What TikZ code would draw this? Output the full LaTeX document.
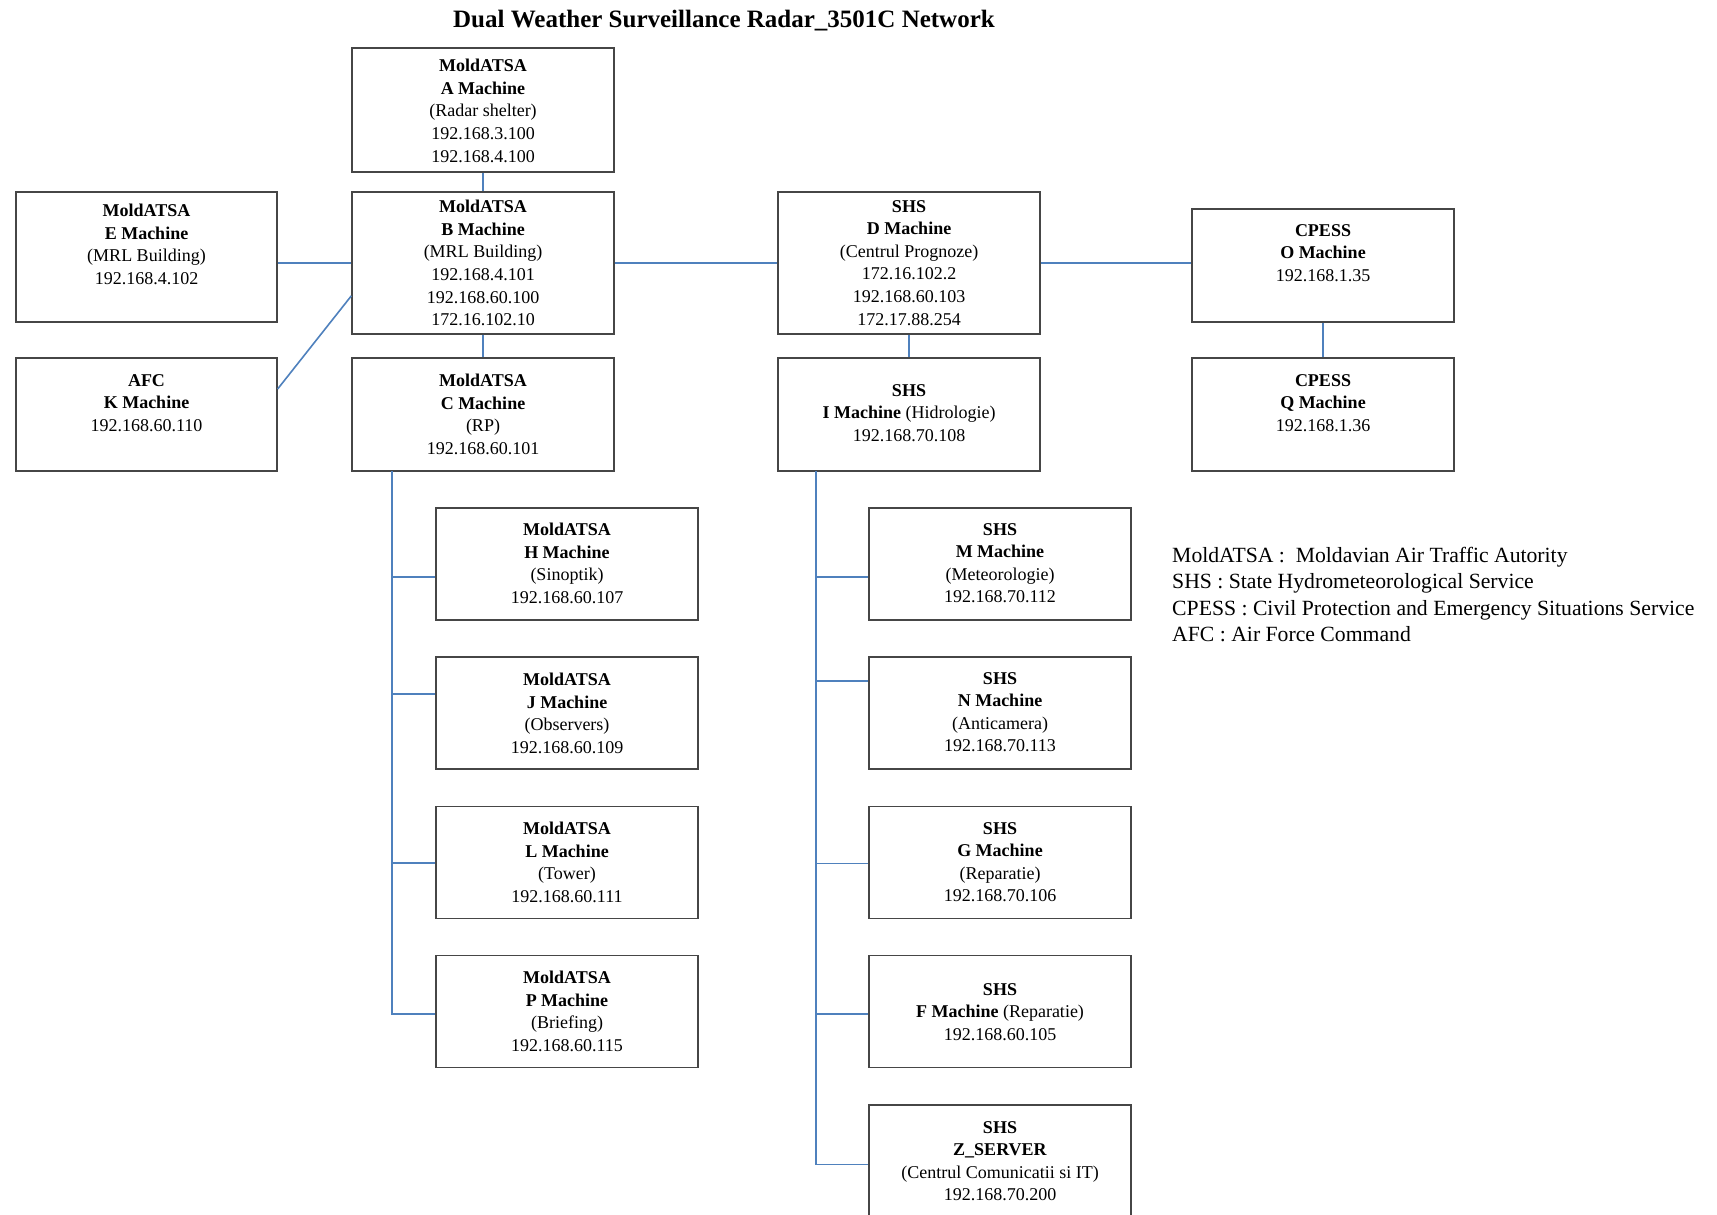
\documentclass[tikz,border=0pt]{standalone}
\usepackage{fontspec}
\setmainfont{Liberation Serif}
\usetikzlibrary{calc}
\definecolor{linkblue}{RGB}{79,129,189}
\definecolor{boxgray}{RGB}{70,70,70}
\begin{document}
\begin{tikzpicture}[x=1pt,y=-1pt,
  machinebox/.style={draw=boxgray,line width=1.3pt,rectangle,inner sep=0pt},
  boxtext/.style={anchor=north,inner sep=0pt,align=center,font=\fontsize{18}{22.6}\selectfont},
  conn/.style={draw=linkblue,line width=1.6pt}]
\useasboundingbox (0,0) rectangle (1717,1215);
\fill[white] (0,0) rectangle (1717,1215);
% title
\node[anchor=base,inner sep=0pt,font=\fontsize{25}{28}\selectfont\bfseries] (title) at (724,28) {Dual Weather Surveillance Radar\_3501C Network};
% boxes
\node[machinebox,minimum width=262,minimum height=124] (A) at (483,110) {};
\node[machinebox,minimum width=262,minimum height=142] (B) at (483,263) {};
\node[machinebox,minimum width=261,minimum height=130] (E) at (146.5,257) {};
\node[machinebox,minimum width=261,minimum height=113] (K) at (146.5,414.5) {};
\node[machinebox,minimum width=262,minimum height=113] (C) at (483,414.5) {};
\node[machinebox,minimum width=262,minimum height=142] (D) at (909,263) {};
\node[machinebox,minimum width=262,minimum height=113] (I) at (909,414.5) {};
\node[machinebox,minimum width=262,minimum height=113] (O) at (1323,265.5) {};
\node[machinebox,minimum width=262,minimum height=113] (Q) at (1323,414.5) {};
\node[machinebox,minimum width=262,minimum height=112] (H) at (567,564) {};
\node[machinebox,minimum width=262,minimum height=112] (J) at (567,713) {};
\node[machinebox,minimum width=262,minimum height=112] (L) at (567,862.5) {};
\node[machinebox,minimum width=262,minimum height=112] (P) at (567,1011.5) {};
\node[machinebox,minimum width=262,minimum height=112] (M) at (1000,564) {};
\node[machinebox,minimum width=262,minimum height=112] (N) at (1000,713) {};
\node[machinebox,minimum width=262,minimum height=112] (G) at (1000,862.5) {};
\node[machinebox,minimum width=262,minimum height=112] (F) at (1000,1011.5) {};
\node[machinebox,minimum width=262,minimum height=112] (Z) at (1000,1161) {};
% texts
\node[boxtext] (At) at (483,59) {\textbf{MoldATSA}\\\textbf{A Machine}\\(Radar shelter)\\192.168.3.100\\192.168.4.100};
\node[boxtext] (Bt) at (483,200) {\textbf{MoldATSA}\\\textbf{B Machine}\\(MRL Building)\\192.168.4.101\\192.168.60.100\\172.16.102.10};
\node[boxtext] (Et) at (146.5,204) {\textbf{MoldATSA}\\\textbf{E Machine}\\(MRL Building)\\192.168.4.102};
\node[boxtext] (Kt) at (146.5,374) {\textbf{AFC}\\\textbf{K Machine}\\192.168.60.110};
\node[boxtext] (Ct) at (483,374) {\textbf{MoldATSA}\\\textbf{C Machine}\\(RP)\\192.168.60.101};
\node[boxtext] (Dt) at (909,200) {\textbf{SHS}\\\textbf{D Machine}\\(Centrul Prognoze)\\172.16.102.2\\192.168.60.103\\172.17.88.254};
\node[boxtext] (It) at (909,384) {\textbf{SHS}\\\textbf{I Machine} (Hidrologie)\\192.168.70.108};
\node[boxtext] (Ot) at (1323,224) {\textbf{CPESS}\\\textbf{O Machine}\\192.168.1.35};
\node[boxtext] (Qt) at (1323,374) {\textbf{CPESS}\\\textbf{Q Machine}\\192.168.1.36};
\node[boxtext] (Ht) at (567,523) {\textbf{MoldATSA}\\\textbf{H Machine}\\(Sinoptik)\\192.168.60.107};
\node[boxtext] (Jt) at (567,673) {\textbf{MoldATSA}\\\textbf{J Machine}\\(Observers)\\192.168.60.109};
\node[boxtext] (Lt) at (567,822) {\textbf{MoldATSA}\\\textbf{L Machine}\\(Tower)\\192.168.60.111};
\node[boxtext] (Pt) at (567,971) {\textbf{MoldATSA}\\\textbf{P Machine}\\(Briefing)\\192.168.60.115};
\node[boxtext] (Mt) at (1000,523) {\textbf{SHS}\\\textbf{M Machine}\\(Meteorologie)\\192.168.70.112};
\node[boxtext] (Nt) at (1000,672) {\textbf{SHS}\\\textbf{N Machine}\\(Anticamera)\\192.168.70.113};
\node[boxtext] (Gt) at (1000,822) {\textbf{SHS}\\\textbf{G Machine}\\(Reparatie)\\192.168.70.106};
\node[boxtext] (Ft) at (1000,983) {\textbf{SHS}\\\textbf{F Machine} (Reparatie)\\192.168.60.105};
\node[boxtext] (Zt) at (1000,1121) {\textbf{SHS}\\\textbf{Z\_SERVER}\\(Centrul Comunicatii si IT)\\192.168.70.200};
% legend
\node[anchor=north west,inner sep=0pt,align=left,font=\fontsize{21.7}{26.3}\selectfont] (legend) at (1172,547) {MoldATSA :\ \ Moldavian Air Traffic Autority\\SHS : State Hydrometeorological Service\\CPESS : Civil Protection and Emergency Situations Service\\AFC : Air Force Command};
% connectors
\draw[conn] (A.south) -- (B.north);
\draw[conn] (B.south) -- (C.north);
\draw[conn] (E.east |- B.west) -- (B.west);
\draw[conn] (K.11.5) -- (B.194.5);
\draw[conn] (B.east) -- (D.west);
\draw[conn] (D.south) -- (I.north);
\draw[conn] (D.east) -- (O.west |- D.east);
\draw[conn] (O.south) -- (Q.north);
% C bus
\coordinate (cb) at (392,471);
\coordinate (hH) at ($(H.west)+(0,13)$);
\coordinate (hJ) at ($(J.west)+(0,-19)$);
\coordinate (hL) at ($(L.west)+(0,0.5)$);
\coordinate (hP) at ($(P.west)+(0,2.5)$);
\draw[conn] (cb) |- (hP);
\draw[conn] (cb |- hH) -- (hH);
\draw[conn] (cb |- hJ) -- (hJ);
\draw[conn] (cb |- hL) -- (hL);
% I bus
\coordinate (ib) at (815.7,471);
\coordinate (hM) at ($(M.west)+(0,13)$);
\coordinate (hN) at ($(N.west)+(0,-32)$);
\coordinate (hG) at ($(G.west)+(0,1)$);
\coordinate (hF) at ($(F.west)+(0,2.5)$);
\coordinate (hZ) at ($(Z.west)+(0,3.5)$);
\draw[conn] (ib) |- (hZ);
\draw[conn] (ib |- hM) -- (hM);
\draw[conn] (ib |- hN) -- (hN);
\draw[conn] (ib |- hG) -- (hG);
\draw[conn] (ib |- hF) -- (hF);
\end{tikzpicture}
\end{document}
